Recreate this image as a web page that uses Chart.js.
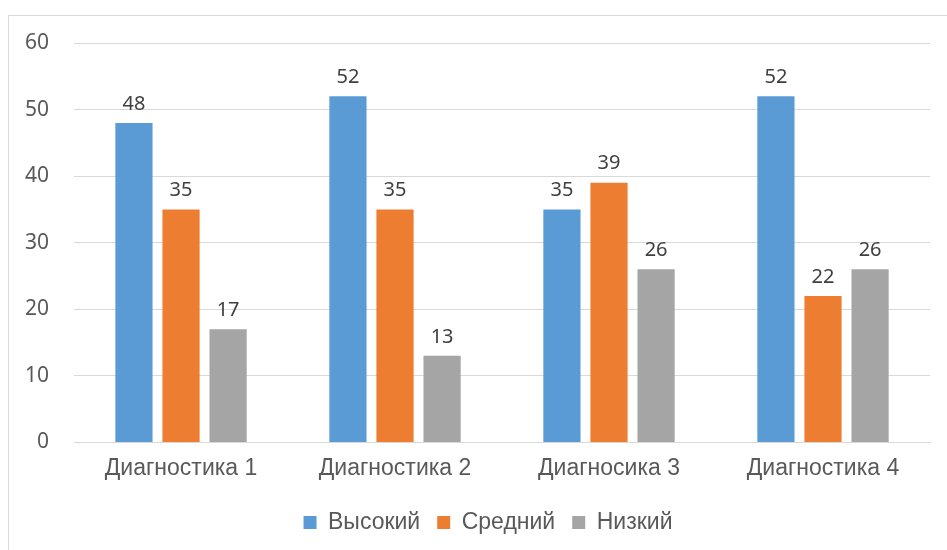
<!DOCTYPE html>
<html>
<head>
<meta charset="utf-8">
<script src="https://cdn.jsdelivr.net/npm/chart.js@4"></script>
<style>
  body { margin: 0; background: #fff; overflow: hidden; }
  #frame { position: absolute; left: 8px; top: 15px; width: 980px; height: 600px; border: 1px solid #d9d9d9; }
  #wrap { position: absolute; left: 0; top: 0; width: 947px; height: 550px; }
</style>
</head>
<body>
<div id="frame"></div>
<div id="wrap"><canvas id="barChart"></canvas></div>
<script>
const categories = ['Диагностика 1', 'Диагностика 2', 'Диагносика 3', 'Диагностика 4'];
const highValues = [48, 52, 35, 52];
const midValues = [35, 35, 39, 22];
const lowValues = [17, 13, 26, 26];
const yTicks = [0, 10, 20, 30, 40, 50, 60];

// value labels above each bar
const valueLabels = {
    id: 'valueLabels',
    afterDatasetsDraw(chart) {
        const ctx = chart.ctx;
        ctx.save();
        ctx.font = '20px "Noto Sans", sans-serif';
        ctx.fillStyle = '#404040';
        ctx.textAlign = 'center';
        ctx.textBaseline = 'bottom';
        chart.data.datasets.forEach((ds, i) => {
            chart.getDatasetMeta(i).data.forEach((bar, j) => {
                ctx.fillText(ds.data[j], bar.x, bar.y - 9);
            });
        });
        ctx.restore();
    }
};

// legend in the original sits centred on the whole (wider) chart frame
const shiftLegend = {
    id: 'shiftLegend',
    afterLayout(chart) {
        if (chart.legend) {
            chart.legend.left += 23;
            chart.legend.right += 23;
        }
    }
};

const ctx = document.getElementById('barChart');
const barChart = new Chart(ctx, {
    type: 'bar',
    data: {
        labels: categories,
        datasets: [
            { label: 'Высокий', data: highValues, backgroundColor: '#5b9bd5' },
            { label: 'Средний', data: midValues, backgroundColor: '#ed7d31' },
            { label: 'Низкий', data: lowValues, backgroundColor: '#a5a5a5' }
        ]
    },
    options: {
        responsive: true,
        maintainAspectRatio: false,
        animation: false,
        categoryPercentage: 0.66,
        barPercentage: 0.79,
        layout: { padding: { left: 0, right: 17, top: 43, bottom: 6 } },
        plugins: {
            tooltip: { enabled: false },
            legend: {
                position: 'bottom',
                labels: {
                    boxWidth: 13,
                    boxHeight: 13,
                    padding: 17,
                    color: '#595959',
                    font: { family: 'Liberation Sans, Arial, sans-serif', size: 23 }
                }
            }
        },
        scales: {
            x: {
                grid: { display: false, drawTicks: false },
                border: { color: '#d9d9d9' },
                ticks: {
                    padding: 12,
                    color: '#595959',
                    font: { family: 'Liberation Sans, Arial, sans-serif', size: 23 }
                }
            },
            y: {
                min: 0,
                max: 60,
                afterBuildTicks(axis) { axis.ticks = yTicks.map(v => ({ value: v })); },
                grid: { color: '#d9d9d9', drawTicks: false },
                border: { display: false },
                ticks: {
                    padding: 25,
                    color: '#595959',
                    font: { family: '"Noto Sans", sans-serif', size: 21 }
                }
            }
        }
    },
    plugins: [valueLabels, shiftLegend]
});
</script>
</body>
</html>
